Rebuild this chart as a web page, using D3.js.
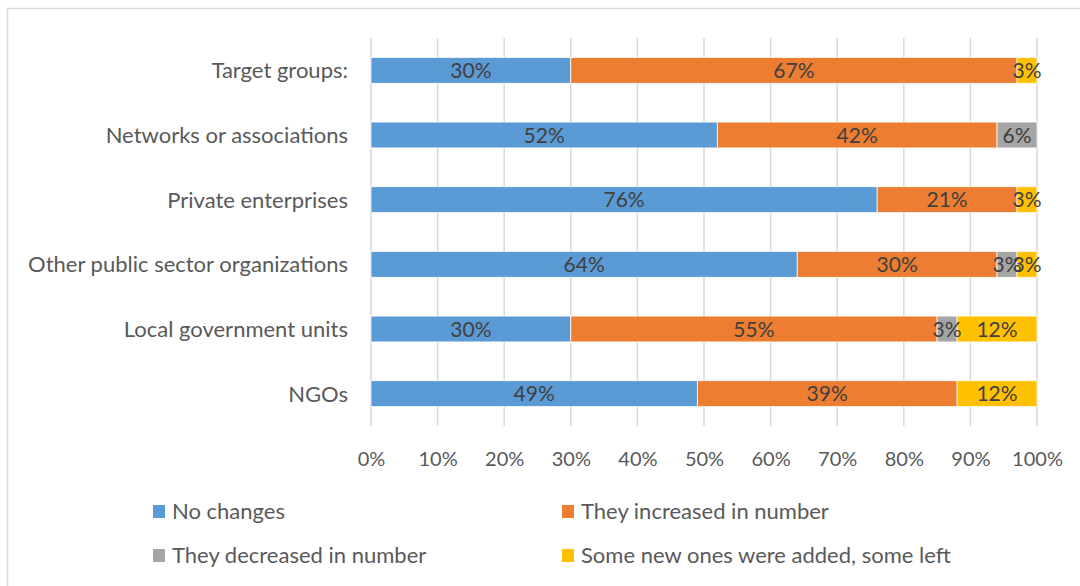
<!DOCTYPE html>
<html>
<head>
<meta charset="utf-8">
<script src="https://cdn.jsdelivr.net/npm/d3@7"></script>
<style>
  body { margin: 0; background: #fff; }
  svg text { font-family: Lato, "Open Sans", sans-serif; }
</style>
</head>
<body>
<svg class="chart"></svg>
<script>
// DATA /////////////////////////////////////////
const categories = [
  "Target groups:",
  "Networks or associations",
  "Private enterprises",
  "Other public sector organizations",
  "Local government units",
  "NGOs"
];
const seriesNames = [
  "No changes",
  "They increased in number",
  "They decreased in number",
  "Some new ones were added, some left"
];
const noChanges = [30, 52, 76, 64, 30, 49];
const increased = [67, 42, 21, 30, 55, 39];
const decreased = [0, 6, 0, 3, 3, 0];
const newAndLeft = [3, 0, 3, 3, 12, 12];
const xTicks = [0, 10, 20, 30, 40, 50, 60, 70, 80, 90, 100];
const colors = ["#5B9BD5", "#ED7D31", "#A5A5A5", "#FFC000"];

// DEFINITIONS //////////////////////////////////
const W = 1080, H = 586;
const margin = { top: 38, left: 371, right: 43, bottom: 160 };
const width = W - margin.left - margin.right;
const height = H - margin.top - margin.bottom;

const svg = d3.select(".chart").attr("width", W).attr("height", H);

// outer frame
svg.append("rect")
  .attr("x", 7.5).attr("y", 8.5)
  .attr("width", W).attr("height", H)
  .attr("fill", "none").attr("stroke", "#d9d9d9").attr("stroke-width", 1.5);

const chartG = svg.append("g")
  .attr("transform", `translate(${margin.left}, ${margin.top})`);

const x = d3.scaleLinear().domain([0, 100]).range([0, width]);
const y = d3.scaleBand().domain(categories).range([0, height]).paddingInner(0.6).paddingOuter(0.3);

// gridlines
chartG.selectAll(".grid")
  .data(xTicks)
  .join("line")
  .attr("class", "grid")
  .attr("x1", (d) => x(d)).attr("x2", (d) => x(d))
  .attr("y1", 0).attr("y2", height)
  .attr("stroke", "#d9d9d9").attr("stroke-width", 1.5);

// stacked bars
const rows = categories.map((c, i) => ({
  cat: c,
  s0: noChanges[i], s1: increased[i], s2: decreased[i], s3: newAndLeft[i]
}));
const stack = d3.stack().keys(["s0", "s1", "s2", "s3"])(rows);

stack.forEach((layer, k) => {
  const g = chartG.append("g");
  g.selectAll("rect")
    .data(layer.filter((d) => d[1] - d[0] > 0))
    .join("rect")
    .attr("x", (d) => x(d[0]))
    .attr("y", (d) => y(d.data.cat))
    .attr("width", (d) => x(d[1]) - x(d[0]))
    .attr("height", y.bandwidth())
    .attr("fill", colors[k])
    .attr("stroke", "#fff").attr("stroke-width", 0.75);
});

stack.forEach((layer) => {
  chartG.append("g").selectAll("text")
    .data(layer.filter((d) => d[1] - d[0] > 0))
    .join("text")
    .attr("x", (d) => x((d[0] + d[1]) / 2))
    .attr("y", (d) => y(d.data.cat) + y.bandwidth() / 2)
    .attr("dy", "0.36em")
    .attr("text-anchor", "middle")
    .attr("font-size", 21)
    .attr("fill", "#404040")
    .text((d) => `${d[1] - d[0]}%`);
});

// category labels
chartG.selectAll(".cat")
  .data(categories)
  .join("text")
  .attr("class", "cat")
  .attr("x", -23)
  .attr("y", (d) => y(d) + y.bandwidth() / 2)
  .attr("dy", "0.36em")
  .attr("text-anchor", "end")
  .attr("font-size", 22)
  .attr("fill", "#595959")
  .text((d) => d);

// x axis labels
const xAxis = chartG.append("g")
  .attr("transform", `translate(0, ${height})`)
  .call(d3.axisBottom(x).tickValues(xTicks).tickFormat((d) => `${d}%`).tickSize(0).tickPadding(26));
xAxis.select(".domain").remove();
xAxis.selectAll("text").attr("font-size", 20).attr("fill", "#595959")
  .style("font-family", "Lato, 'Open Sans', sans-serif");

// LEGEND ///////////////////////////////////////
const legendX = [153, 562];
const legendY = [511, 555];
const legendG = svg.append("g");
seriesNames.forEach((name, i) => {
  const lx = legendX[i % 2];
  const ly = legendY[Math.floor(i / 2)];
  legendG.append("rect")
    .attr("x", lx).attr("y", ly - 6)
    .attr("width", 12).attr("height", 13)
    .attr("fill", colors[i]);
  legendG.append("text")
    .attr("x", lx + 19).attr("y", ly)
    .attr("dy", "0.36em")
    .attr("font-size", 22)
    .attr("fill", "#595959")
    .text(name);
});
</script>
</body>
</html>
